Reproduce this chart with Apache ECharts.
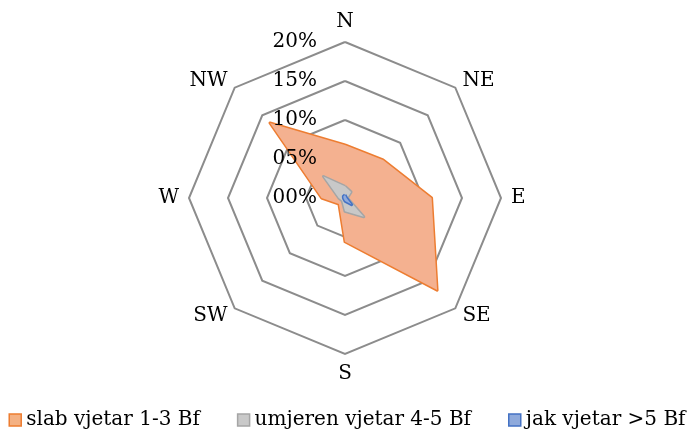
<!DOCTYPE html>
<html><head><meta charset="utf-8">
<script src="https://cdn.jsdelivr.net/npm/echarts@6/dist/echarts.min.js"></script>
<style>html,body{margin:0;padding:0;background:#fff}#c{width:694px;height:439px}</style>
</head><body><div id="c"></div>
<script>
// compass order
const directions = ['N', 'NE', 'E', 'SE', 'S', 'SW', 'W', 'NW'];
const seriesNames = ['slab vjetar 1-3 Bf', 'umjeren vjetar 4-5 Bf', 'jak vjetar >5 Bf'];
const slab = [6.8, 6.9, 11.1, 16.7, 5.6, 1.1, 3.0, 13.6];
const umjeren = [1.5, 1.1, 0.3, 3.4, 1.7, 0.5, 0.8, 3.9];
const jak = [0.4, 0.2, 0.2, 1.2, 0.4, 0.2, 0.2, 0.3];
const tickLabels = ['00%', '05%', '10%', '15%', '20%'];
const axisMax = 20;

// radar draws counter-clockwise; reorder so compass goes clockwise
const order = [0, 7, 6, 5, 4, 3, 2, 1];
const ro = arr => order.map(i => arr[i]);

const FONT = 'DejaVu Serif';
const baseIndicator = order.map(i => ({ name: directions[i], min: 0, max: axisMax }));
const labelIndicator = baseIndicator.map((ind, k) => {
  const o = Object.assign({}, ind);
  o.axisLabel = {
    show: k === 0, fontFamily: FONT, fontSize: 20, color: '#000', margin: 28,
    formatter: v => tickLabels[Math.round(v / 5)]
  };
  return o;
});

const colors = [
  { line: '#ED7D31', fill: '#F4B190', icon: '#F4B183' },
  { line: '#A5A5A5', fill: '#C8C8C8', icon: '#C9C9C9' },
  { line: '#4472C4', fill: '#8FAADC', icon: '#8FAADC' }
];
const datasets = [slab, umjeren, jak];

const common = { center: [345, 198], radius: 156, shape: 'polygon', splitNumber: 4, startAngle: 90 };

const chart = echarts.init(document.getElementById('c'));
chart.setOption({
  animation: false,
  legend: {
    bottom: 4, left: 'center', itemGap: 37, itemWidth: 12, itemHeight: 12,
    textStyle: { fontFamily: FONT, fontSize: 20, color: '#000' },
    data: seriesNames.map((n, i) => ({
      name: n, icon: 'rect',
      itemStyle: { color: colors[i].icon, borderColor: colors[i].line, borderWidth: 1.5 }
    }))
  },
  radar: [
    Object.assign({}, common, {
      z: 1,
      indicator: baseIndicator,
      nameGap: 10,
      axisName: { color: '#000', fontFamily: FONT, fontSize: 20 },
      axisLine: { show: false },
      axisTick: { show: false },
      splitLine: { lineStyle: { color: '#8C8C8C', width: 2 } },
      splitArea: { show: false }
    }),
    Object.assign({}, common, {
      z: 10,
      indicator: labelIndicator,
      axisName: { show: false },
      axisLine: { show: false },
      axisTick: { show: false },
      splitLine: { show: false },
      splitArea: { show: false }
    })
  ],
  series: [{
    type: 'radar', symbol: 'none', radarIndex: 0, z: 2,
    data: datasets.map((d, i) => ({
      name: seriesNames[i], value: ro(d),
      lineStyle: { color: colors[i].line, width: 3 },
      areaStyle: { color: colors[i].fill, opacity: 1 },
      itemStyle: { color: colors[i].line }
    }))
  }]
});
</script></body></html>
